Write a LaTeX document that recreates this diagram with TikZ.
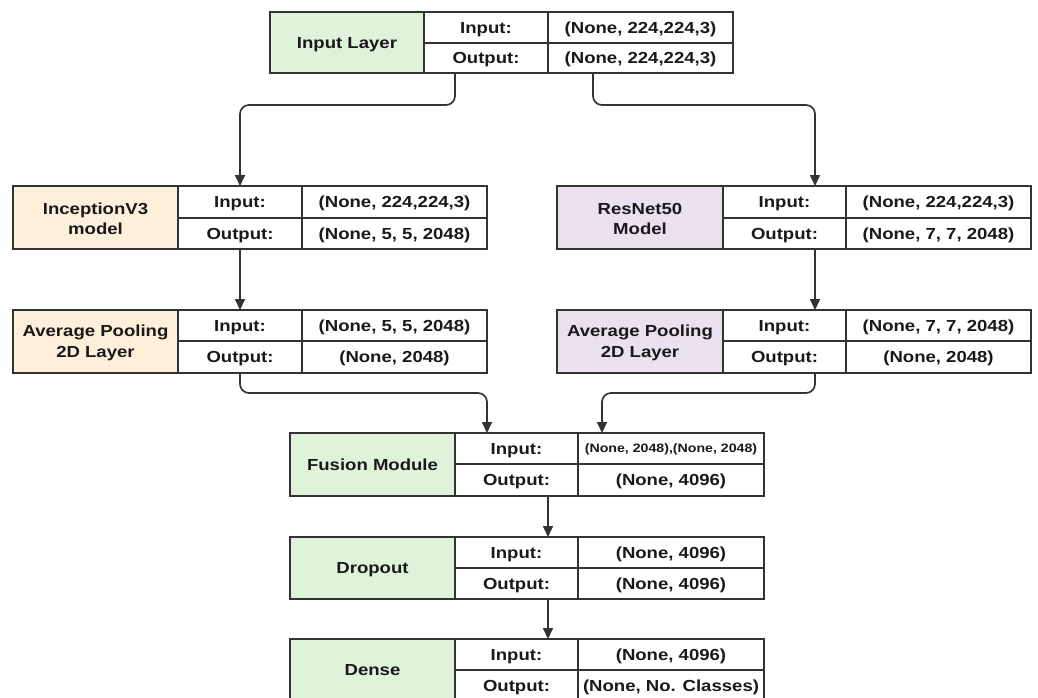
\documentclass[tikz,border=0pt]{standalone}
\usepackage{fontspec}
\setmainfont{Liberation Sans}[FakeStretch=1.16]
\usetikzlibrary{arrows.meta,positioning}

\definecolor{fillgreen}{HTML}{DFF2DA}
\definecolor{fillorange}{HTML}{FDEFD9}
\definecolor{fillpurple}{HTML}{EBE0F0}
\definecolor{edge}{HTML}{333333}

% one rectangular cell of a layer table, given by its edges (in px-like pt)
\newcommand\tcell[7]{%
  \node[cellbox,#6,minimum width={(#3-#2)*1pt},minimum height={(#5-#4)*1pt}]
    (#1) at ({(#2+#3)/2},{-(#4+#5)/2}) {#7};}

% a full layer table: name, x0,x1,x2,x3, ytop,ymid,ybot, fill
\newcommand\layertable[9]{%
  \tcell{#1-l}{#2}{#3}{#6}{#8}{fill=#9}{}%
  \tcell{#1-i}{#3}{#4}{#6}{#7}{}{Input:}%
  \tcell{#1-o}{#3}{#4}{#7}{#8}{}{Output:}%
}

\begin{document}
\begin{tikzpicture}[x=1pt,y=1pt,
  cellbox/.style={draw=edge,line width=1.7pt,rectangle,inner sep=0pt,outer sep=0pt,
    align=center,font=\bfseries\fontsize{16}{20.5}\selectfont,text=black!90,
    text height=11.5pt,text depth=0pt},
  smalltext/.style={font=\bfseries\fontsize{12.2}{14}\selectfont,text height=8.7pt},
  labeltext/.style={align=center,font=\bfseries\fontsize{16}{20.5}\selectfont,text=black!90},
  onelabel/.style={labeltext,text height=11.5pt,text depth=0pt},
  twolabel/.style={labeltext,yshift=-1.5pt},
  conn/.style={draw=edge,line width=1.7pt,rounded corners=9pt,
    -{Triangle[length=11pt,width=10pt]}}]
\useasboundingbox (0,0) rectangle (1038,-698);
\fill[white] (0,0) rectangle (1038,-698);

% Input layer
\layertable{inl}{270}{424}{548}{733}{12}{43}{73}{fillgreen}
\tcell{inl-iv}{548}{733}{12}{43}{}{(None, 224,224,3)}
\tcell{inl-ov}{548}{733}{43}{73}{}{(None, 224,224,3)}
\node[onelabel] at (inl-l) {Input Layer};

% InceptionV3 branch
\layertable{inc}{13}{178}{302}{487}{186}{218}{249}{fillorange}
\tcell{inc-iv}{302}{487}{186}{218}{}{(None, 224,224,3)}
\tcell{inc-ov}{302}{487}{218}{249}{}{(None, 5, 5, 2048)}
\node[twolabel] at (inc-l) {InceptionV3\\model};

\layertable{inp}{13}{178}{302}{487}{310}{341}{373}{fillorange}
\tcell{inp-iv}{302}{487}{310}{341}{}{(None, 5, 5, 2048)}
\tcell{inp-ov}{302}{487}{341}{373}{}{(None, 2048)}
\node[twolabel] at (inp-l) {Average Pooling\\2D Layer};

% ResNet50 branch
\layertable{res}{557}{723}{846}{1031}{186}{218}{249}{fillpurple}
\tcell{res-iv}{846}{1031}{186}{218}{}{(None, 224,224,3)}
\tcell{res-ov}{846}{1031}{218}{249}{}{(None, 7, 7, 2048)}
\node[twolabel] at (res-l) {ResNet50\\Model};

\layertable{rep}{557}{723}{846}{1031}{310}{341}{373}{fillpurple}
\tcell{rep-iv}{846}{1031}{310}{341}{}{(None, 7, 7, 2048)}
\tcell{rep-ov}{846}{1031}{341}{373}{}{(None, 2048)}
\node[twolabel] at (rep-l) {Average Pooling\\2D Layer};

% Fusion module
\layertable{fus}{290}{455}{578}{764}{433}{464}{496}{fillgreen}
\tcell{fus-iv}{578}{764}{433}{464}{smalltext}{(None, 2048),(None, 2048)}
\tcell{fus-ov}{578}{764}{464}{496}{}{(None, 4096)}
\node[onelabel] at (fus-l) {Fusion Module};

% Dropout
\layertable{drp}{290}{455}{578}{764}{537}{568}{599}{fillgreen}
\tcell{drp-iv}{578}{764}{537}{568}{}{(None, 4096)}
\tcell{drp-ov}{578}{764}{568}{599}{}{(None, 4096)}
\node[onelabel] at (drp-l) {Dropout};

% Dense
\layertable{dns}{290}{455}{578}{764}{639}{670}{701}{fillgreen}
\tcell{dns-iv}{578}{764}{639}{670}{}{(None, 4096)}
\tcell{dns-ov}{578}{764}{670}{701}{}{(None, No. Classes)}
\node[onelabel] at (dns-l) {Dense};

% connectors
\draw[conn] ([xshift=-31pt]inl-o.south) -- ++(0,-32) -| (inc-i.north);
\draw[conn] ([xshift=-47.5pt]inl-ov.south) -- ++(0,-32) -| ([xshift=30.5pt]res-i.north);
\draw[conn] (inc-o.south) -- (inp-i.north);
\draw[conn] ([xshift=30.5pt]res-o.south) -- ([xshift=30.5pt]rep-i.north);
\draw[conn] (inp-o.south) -- ++(0,-20) -| ([xshift=-29.5pt]fus-i.north);
\draw[conn] ([xshift=30.5pt]rep-o.south) -- ++(0,-20) -| ([xshift=-69pt]fus-iv.north);
\draw[conn] ([xshift=31.5pt]fus-o.south) -- ([xshift=31.5pt]drp-i.north);
\draw[conn] ([xshift=31.5pt]drp-o.south) -- ([xshift=31.5pt]dns-i.north);
\end{tikzpicture}
\end{document}
